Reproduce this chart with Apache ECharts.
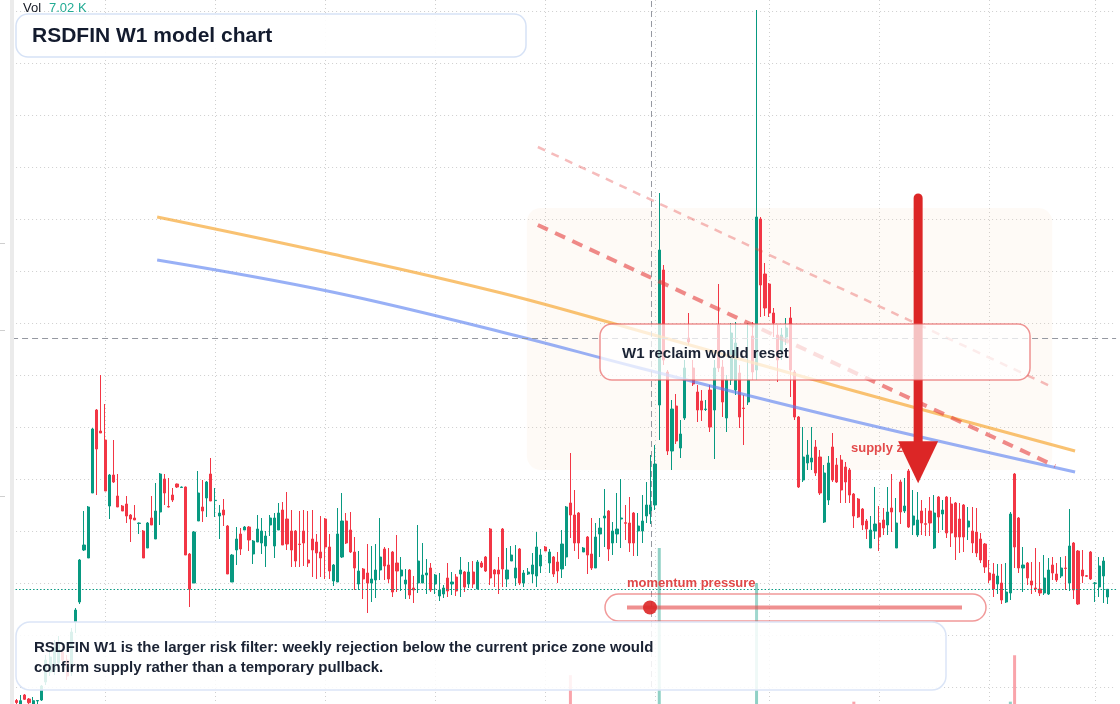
<!DOCTYPE html>
<html lang="en">
<head>
<meta charset="UTF-8">
<title>RSDFIN W1 model chart</title>
<script src="https://cdn.jsdelivr.net/npm/echarts@6/dist/echarts.min.js"></script>
<style>
  html, body { margin: 0; padding: 0; background: #fff; }
  #chart { width: 1120px; height: 704px; }
</style>
</head>
<body>
<div id="chart"></div>
<script>
// weekly candles, oldest first: [open, close, low, high]
const ohlc = [
  [0.385,0.365,0.345,0.40],[0.35,0.383,0.35,0.44],[0.44,0.397,0.39,0.45],[0.40,0.363,0.35,0.41],[0.35,0.383,0.345,0.42],
  [0.38,0.385,0.35,0.39],[0.39,0.53,0.38,0.54],[0.57,0.79,0.54,0.84],[0.67,0.82,0.63,0.89],[0.69,0.92,0.64,0.99],
  [0.76,0.96,0.71,1.03],[0.87,0.79,0.75,0.94],[0.79,0.63,0.59,0.84],[0.67,1.07,0.63,1.11],[1.17,1.29,1.06,1.31],
  [1.37,1.79,1.35,1.80],[1.89,1.94,1.88,2.28],[1.81,2.32,1.81,2.33],[2.46,3.10,2.46,3.11],[3.29,2.90,2.44,3.30],
  [3.08,3.06,3.06,3.64],[2.99,2.48,2.48,3.35],[2.33,2.64,2.20,2.65],[2.64,2.57,2.56,2.99],[2.43,2.32,2.32,2.65],
  [2.33,2.28,2.28,2.34],[2.35,2.23,2.16,2.43],[2.24,2.20,1.97,2.25],[2.21,2.19,2.19,2.34],[2.155,2.16,2.05,2.165],
  [2.08,1.81,1.81,2.09],[1.91,2.16,1.91,2.17],[2.21,2.14,2.14,2.43],[2.00,2.28,2.00,2.56],[2.27,2.65,2.14,2.66],
  [2.60,2.46,2.34,2.65],[2.325,2.32,2.315,2.61],[2.44,2.39,2.37,2.51],[2.55,2.52,2.51,2.555],[2.515,2.52,2.51,2.525],
  [2.52,1.84,1.84,2.525],[1.85,1.50,1.32,1.86],[1.56,2.07,1.56,2.08],[2.18,2.46,2.18,2.68],[2.32,2.28,2.17,2.59],
  [2.41,2.57,2.22,2.58],[2.65,2.38,2.38,2.81],[2.384,2.387,2.22,2.51],[2.23,2.26,2.00,2.34],[2.29,2.24,2.13,2.40],
  [2.13,1.65,1.65,2.14],[1.57,1.84,1.57,1.85],[1.89,2.00,1.74,2.12],[2.05,1.90,1.84,2.11],[2.09,2.12,2.09,2.13],
  [2.12,1.99,1.88,2.13],[1.85,1.98,1.75,1.99],[1.97,2.10,1.97,2.24],[1.96,2.08,1.85,2.21],[1.93,2.03,1.72,2.08],
  [2.14,2.21,2.03,2.24],[1.93,2.21,1.81,2.26],[2.09,2.26,2.09,2.36],[2.29,1.94,1.94,2.37],[2.20,1.95,1.89,2.47],
  [2.08,1.89,1.72,2.29],[2.08,1.78,1.72,2.09],[1.95,1.945,1.72,2.28],[2.08,1.96,1.73,2.29],[1.79,1.76,1.72,2.28],
  [2.00,1.89,1.62,2.29],[1.97,1.86,1.60,2.05],[1.87,1.81,1.62,2.23],[2.20,1.92,1.60,2.21],[1.92,1.68,1.60,2.05],
  [1.58,1.74,1.53,1.75],[1.57,2.05,1.57,2.31],[1.82,2.18,1.81,2.46],[2.18,1.96,1.95,2.26],[2.09,1.87,1.86,2.27],
  [1.87,1.71,1.49,2.02],[1.55,1.68,1.49,1.88],[1.70,1.60,1.40,1.71],[1.66,1.56,1.26,1.95],[1.56,1.60,1.37,1.93],
  [1.59,1.69,1.41,1.95],[1.69,1.82,1.59,2.21],[1.90,1.73,1.59,1.92],[1.74,1.60,1.56,1.91],[1.87,1.47,1.42,1.88],
  [1.76,1.68,1.47,2.04],[1.63,1.69,1.48,1.82],[1.55,1.59,1.40,1.70],[1.69,1.44,1.40,1.70],[1.51,1.49,1.36,1.63],
  [1.56,1.78,1.46,2.14],[1.56,1.64,1.56,1.96],[1.64,1.66,1.45,1.80],[1.71,1.49,1.47,1.76],[1.55,1.64,1.45,1.65],
  [1.43,1.49,1.38,1.66],[1.45,1.51,1.41,1.54],[1.61,1.48,1.42,1.76],[1.55,1.57,1.44,1.67],[1.62,1.48,1.43,1.65],
  [1.65,1.69,1.42,1.82],[1.67,1.52,1.47,1.68],[1.55,1.67,1.51,1.77],[1.67,1.55,1.51,1.78],[1.50,1.77,1.50,1.79],
  [1.76,1.72,1.71,1.78],[1.82,1.68,1.67,1.83],[2.10,1.61,1.54,2.11],[1.69,1.65,1.52,1.70],[1.69,1.65,1.45,1.82],
  [2.10,1.70,1.52,2.11],[1.60,1.69,1.52,1.91],[1.78,1.84,1.78,1.93],[1.61,1.71,1.53,1.94],[1.90,1.56,1.54,1.91],
  [1.56,1.66,1.52,1.69],[1.65,1.67,1.64,1.71],[1.65,1.74,1.56,1.86],[1.63,1.92,1.52,2.07],[1.73,1.84,1.66,1.90],
  [1.92,1.88,1.88,1.93],[1.76,1.87,1.66,1.90],[1.82,1.65,1.62,1.83],[1.77,1.68,1.56,1.87],[1.70,1.95,1.61,2.09],
  [1.82,2.32,1.73,2.33],[2.36,2.24,2.01,2.86],[2.24,1.96,1.88,2.49],[2.26,1.96,1.80,2.27],[1.87,1.91,1.87,1.92],
  [2.02,1.84,1.65,2.03],[1.85,1.71,1.69,2.21],[1.71,2.02,1.71,2.16],[2.05,2.11,1.82,2.21],[2.21,2.23,1.92,2.50],
  [2.28,1.90,1.78,2.29],[1.96,2.08,1.84,2.17],[2.05,2.10,1.96,2.46],[2.20,2.21,1.91,2.60],[2.163,2.157,1.99,2.34],
  [2.16,1.96,1.87,2.42],[2.26,1.96,1.83,2.27],[2.08,2.13,1.83,2.26],[2.08,2.18,1.96,2.44],[2.23,2.34,2.16,2.57],
  [2.25,2.34,2.15,2.84],[2.34,2.75,2.29,2.94],[3.34,4.89,2.99,5.46],[4.69,3.79,3.74,4.74],[3.67,2.88,2.84,3.69],
  [2.88,3.30,2.69,3.39],[3.33,2.98,2.95,3.45],[2.91,3.05,2.81,3.19],[3.21,3.71,3.19,3.79],[4.01,3.97,3.94,4.26],
  [3.71,3.55,3.53,3.79],[3.47,3.29,3.17,3.54],[3.38,3.29,3.18,3.49],[3.295,3.30,3.28,3.39],[3.49,3.12,3.07,3.54],
  [3.29,3.71,2.80,3.79],[4.14,3.71,3.67,4.55],[3.72,3.37,3.22,3.79],[3.21,3.59,3.07,3.64],[3.59,4.06,3.54,4.16],
  [3.49,3.96,3.44,4.17],[3.66,3.22,3.11,3.74],[3.31,3.305,2.94,3.44],[3.37,3.59,3.34,4.16],[4.03,3.67,3.59,4.17],
  [3.69,5.22,3.59,7.29],[5.20,4.54,4.22,5.22],[4.65,4.31,4.23,4.76],[4.55,4.26,4.22,4.56],[4.26,4.16,4.02,4.31],
  [4.04,3.79,3.57,4.14],[3.87,4.04,3.79,4.11],[4.02,4.11,3.94,4.21],[4.21,3.69,3.42,4.32],[3.67,3.22,3.19,3.69],
  [3.22,2.52,2.51,3.23],[2.59,2.82,2.57,3.12],[2.76,2.84,2.69,2.99],[2.77,2.81,2.69,3.12],[2.92,2.66,2.63,2.99],
  [2.82,2.46,2.44,2.89],[2.17,2.66,2.16,2.74],[2.39,2.76,2.34,2.83],[2.92,2.59,2.57,3.06],[2.74,2.57,2.56,2.81],
  [2.79,2.49,2.36,2.84],[2.72,2.57,2.36,2.77],[2.69,2.44,2.36,2.71],[2.45,2.23,2.11,2.46],[2.40,2.22,2.21,2.41],
  [2.30,2.14,2.09,2.31],[2.18,2.10,2.00,2.20],[1.91,2.09,1.91,2.23],[2.08,2.15,2.00,2.52],[2.16,2.02,1.88,2.33],
  [2.19,2.11,2.04,2.31],[2.14,2.27,2.04,2.52],[2.31,2.27,2.07,2.65],[1.91,2.16,1.91,2.41],[2.57,2.27,2.15,2.59],
  [2.28,2.33,2.26,2.61],[2.68,2.12,2.11,2.70],[2.14,2.23,2.04,2.49],[2.04,2.19,2.02,2.47],[2.28,2.16,2.04,2.39],
  [2.153,2.147,2.03,2.31],[2.28,2.16,2.03,2.42],[1.91,2.26,1.90,2.44],[2.42,2.22,2.06,2.43],[2.25,2.29,2.09,2.39],
  [2.42,2.06,2.01,2.43],[2.35,2.06,1.92,2.42],[2.36,2.02,1.79,2.37],[2.20,2.02,1.86,2.36],[2.34,2.02,1.87,2.35],
  [2.12,2.18,1.99,2.32],[2.08,1.96,1.86,2.32],[2.07,1.86,1.82,2.31],[2.00,1.79,1.76,2.06],[1.95,1.72,1.66,1.96],
  [1.66,1.59,1.56,1.79],[1.65,1.50,1.42,1.76],[1.55,1.63,1.45,1.75],[1.56,1.39,1.35,1.75],[1.37,1.47,1.36,1.76],
  [1.46,2.25,1.39,2.27],[2.65,1.92,1.71,2.66],[2.21,1.71,1.66,2.22],[1.71,1.74,1.47,1.92],[1.76,1.61,1.54,1.77],
  [1.58,1.54,1.45,1.77],[1.51,1.50,1.47,1.91],[1.50,1.46,1.43,1.77],[1.46,1.61,1.44,1.84],[1.45,1.69,1.44,1.81],
  [1.74,1.66,1.59,1.82],[1.65,1.59,1.57,1.76],[1.63,1.71,1.61,1.82],[1.71,1.705,1.49,1.83],[1.56,1.93,1.48,2.30],
  [1.96,1.49,1.40,1.97],[1.88,1.35,1.34,1.89],[1.69,1.63,1.56,1.89],[1.633,1.627,1.62,1.64],[1.87,1.60,1.59,1.88],
  [1.557,1.56,1.37,1.57],[1.52,1.73,1.42,1.82],[1.63,1.78,1.36,1.82],[1.42,1.497,1.35,1.50]
];

// weekly volume, thousands
const volume = [
  1.2,0.9,1.1,0.8,1.0,0.7,2.4,3.1,2.6,2.9,2.7,2.2,2.5,3.8,4.2,6.1,5.3,7.4,8.6,8.1,
  6.2,7.0,5.1,4.6,3.9,2.8,3.3,3.0,2.4,2.1,3.6,3.2,2.7,3.4,4.1,3.0,2.5,2.2,1.9,1.6,
  5.2,6.0,5.5,4.4,3.1,2.9,3.5,2.6,2.3,2.4,4.8,4.0,2.9,2.7,1.8,2.5,2.6,2.3,2.2,2.4,
  2.1,2.8,2.5,3.0,2.9,2.7,2.8,2.6,2.4,2.5,2.7,2.6,2.3,3.1,2.9,2.2,3.8,3.5,2.6,2.5,
  2.8,2.4,2.2,2.9,2.3,2.1,2.6,2.4,2.3,3.2,2.7,2.0,1.9,2.6,2.2,3.0,2.3,2.1,2.5,1.9,
  1.8,1.7,2.3,1.9,2.2,2.1,2.0,1.9,2.1,2.6,1.8,2.0,3.4,1.9,2.2,3.3,2.4,2.0,2.3,2.9,
  1.9,1.6,2.2,3.1,2.4,1.8,2.1,2.3,2.5,3.6,6.2,16.4,5.8,4.6,2.4,3.2,3.0,3.7,2.6,2.8,
  3.5,2.7,2.9,3.0,2.4,2.9,3.2,2.5,2.8,3.4,4.1,6.8,49.0,8.5,8.0,6.1,5.4,4.2,5.6,4.8,
  4.4,3.9,3.6,2.8,4.0,5.2,4.7,4.1,3.8,4.6,4.3,3.9,3.4,3.6,4.2,40.0,8.2,6.3,5.1,4.4,
  4.0,3.6,3.3,5.5,5.0,6.8,3.9,3.1,3.0,3.4,4.2,4.5,3.7,3.9,3.1,3.3,2.8,3.0,9.6,2.7,
  2.6,2.4,3.0,2.9,2.8,2.5,3.1,3.2,3.0,3.3,2.7,3.6,2.8,2.9,2.6,2.4,2.7,3.4,2.9,2.3,
  3.2,3.1,3.4,2.9,3.0,2.4,2.8,3.0,2.9,3.1,2.6,3.2,2.7,3.3,3.0,9.6,21.5,7.9,4.6,3.8,
  3.5,3.4,3.1,3.6,3.8,3.0,2.9,2.8,3.1,5.2,5.6,6.0,3.9,2.7,4.1,3.3,4.9,5.1,7.02
];

// first week of each half-year (candle index) -> vertical grid
const halfYearWeeks = [21, 47, 73, 99, 125, 151, 178, 204, 230, 255];

// model overlays, [candle index, price]
const slowCurve = [[33.3, 5.22], [74.7, 4.85], [114.7, 4.46], [147.4, 4.08], [194.7, 3.52], [250.3, 2.88]];
const fastCurve = [[33.3, 4.79], [74.7, 4.47], [114.7, 4.07], [147.4, 3.71], [194.7, 3.21], [250.3, 2.67]];
const upperRail = [[123.3, 5.92], [244.4, 3.53]];
const lowerRail = [[123.3, 5.14], [245.6, 2.73]];
const supplyZone = [[120.7, 5.31, 244.9, 2.69]];
const supplyArrow = [[213.2, 5.41, 2.557]];
const crosshair = [150.2, 4.007];
const lastClose = ohlc[ohlc.length - 1][1];

// one empty week in front, two after
const weeks = [];
const t0 = Date.UTC(2019, 7, 5);
for (let k = 0; k < ohlc.length + 3; k++) {
  weeks.push(new Date(t0 + k * 7 * 864e5).toISOString().slice(0, 10));
}

const UP = '#089981', DOWN = '#f23645';
const FONT = '"Liberation Sans", Arial, sans-serif';
const GRID_LINE = { color: '#cfcfcf', type: [1, 3], width: 1 };
const step = 4.23;
const gridLeft = 16.3 - step;
const gridRight = 1120 - gridLeft - (weeks.length - 1) * step;

let chart = echarts.init(document.getElementById('chart'));

const hidden = { axisLine: { show: false }, axisTick: { show: false }, axisLabel: { show: false }, splitLine: { show: false } };

option = {
  animation: false,
  backgroundColor: '#ffffff',
  grid: [
    // price pane: lowest grid line sits 17px above the bottom edge
    { left: gridLeft, right: gridRight, top: 0, bottom: 17 },
    // volume overlay, full height
    { left: gridLeft, right: gridRight, top: 0, bottom: 0 }
  ],
  xAxis: [
    Object.assign({ type: 'category', data: weeks, boundaryGap: false, gridIndex: 0 }, hidden),
    { type: 'value', gridIndex: 0, min: -1, max: weeks.length - 2, show: false },
    Object.assign({ type: 'category', data: weeks, boundaryGap: false, gridIndex: 1 }, hidden, {
      splitLine: { show: true, interval: (idx) => halfYearWeeks.includes(idx - 1), lineStyle: GRID_LINE }
    })
  ],
  yAxis: [
    Object.assign({ type: 'value', gridIndex: 0, min: 0.52, max: 7.39, interval: 0.52 }, hidden, {
      splitLine: { show: true, showMaxLine: false, lineStyle: GRID_LINE }
    }),
    // volume in K; bars under 9K stay below the visible edge
    { type: 'value', gridIndex: 1, min: 9, max: 189.5, show: false }
  ],
  series: [
    {
      type: 'custom', xAxisIndex: 1, yAxisIndex: 0, z: 1, silent: true,
      data: supplyZone,
      encode: { x: [0, 2], y: [1, 3] },
      renderItem: (params, api) => {
        const a = api.coord([api.value(0), api.value(1)]);
        const b = api.coord([api.value(2), api.value(3)]);
        return {
          type: 'rect',
          shape: { x: a[0], y: a[1], width: b[0] - a[0], height: b[1] - a[1], r: 14 },
          style: { fill: 'rgba(245,200,160,0.09)' }
        };
      }
    },
    {
      type: 'bar', xAxisIndex: 2, yAxisIndex: 1, z: 1, barWidth: 3, silent: true,
      data: volume.map((v, i) => ({
        value: [i + 1, v],
        itemStyle: { color: ohlc[i][1] >= ohlc[i][0] ? 'rgba(8,153,129,0.45)' : 'rgba(242,54,69,0.45)' }
      }))
    },
    {
      type: 'candlestick', xAxisIndex: 0, yAxisIndex: 0, z: 2, barWidth: 2.6, clip: false,
      encode: { x: 0, y: [1, 2, 3, 4] },
      data: ohlc.map((d, i) => [i + 1, d[0], d[1], d[2], d[3]]),
      itemStyle: { color: UP, color0: DOWN, borderColor: UP, borderColor0: DOWN, borderWidth: 1 }
    },
    {
      type: 'line', xAxisIndex: 1, yAxisIndex: 0, z: 3, data: slowCurve, smooth: 0.4,
      showSymbol: false, silent: true,
      lineStyle: { color: 'rgba(246,170,60,0.72)', width: 3 },
      markLine: {
        silent: true, symbol: ['none', 'none'], label: { show: false },
        data: [
          { xAxis: crosshair[0], lineStyle: { color: '#9598a1', type: [6, 4], width: 1 } },
          { yAxis: crosshair[1], lineStyle: { color: '#9598a1', type: [6, 4], width: 1 } },
          { yAxis: lastClose, lineStyle: { color: UP, type: [1.5, 2], width: 1 } }
        ]
      }
    },
    {
      type: 'line', xAxisIndex: 1, yAxisIndex: 0, z: 3, data: fastCurve, smooth: 0.4,
      showSymbol: false, silent: true,
      lineStyle: { color: 'rgba(88,128,240,0.62)', width: 3 }
    },
    {
      type: 'line', xAxisIndex: 1, yAxisIndex: 0, z: 3, data: upperRail,
      showSymbol: false, silent: true,
      lineStyle: { color: 'rgba(229,62,62,0.35)', width: 2.5, type: [8, 7] }
    },
    {
      type: 'line', xAxisIndex: 1, yAxisIndex: 0, z: 3, data: lowerRail,
      showSymbol: false, silent: true,
      lineStyle: { color: 'rgba(229,62,62,0.6)', width: 4, type: [11, 8] }
    },
    {
      type: 'custom', xAxisIndex: 1, yAxisIndex: 0, z: 6, silent: true,
      data: supplyArrow,
      encode: { x: 0, y: [1, 2] },
      renderItem: (params, api) => {
        const top = api.coord([api.value(0), api.value(1)]);
        const tip = api.coord([api.value(0), api.value(2)]);
        const headH = 42, headW = 20;
        return {
          type: 'group',
          children: [
            { type: 'line', shape: { x1: top[0], y1: top[1], x2: tip[0], y2: tip[1] - headH + 4 },
              style: { stroke: '#dc2626', lineWidth: 9, lineCap: 'round' } },
            { type: 'polygon', shape: { points: [[tip[0] - headW, tip[1] - headH], [tip[0] + headW, tip[1] - headH], [tip[0], tip[1]]] },
              style: { fill: '#dc2626' } }
          ]
        };
      }
    }
  ],
  graphic: [
    // left pane separator and the stray scale ticks beside it
    { type: 'rect', z: 50, shape: { x: 10, y: 0, width: 4, height: 704 }, style: { fill: '#ebebeb' } },
    { type: 'line', z: 50, shape: { x1: 0, y1: 243.5, x2: 5, y2: 243.5 }, style: { stroke: '#cfcfcf', lineWidth: 1 } },
    { type: 'line', z: 50, shape: { x1: 0, y1: 330.5, x2: 5, y2: 330.5 }, style: { stroke: '#cfcfcf', lineWidth: 1 } },
    { type: 'line', z: 50, shape: { x1: 0, y1: 496.5, x2: 5, y2: 496.5 }, style: { stroke: '#cfcfcf', lineWidth: 1 } },
    { type: 'text', z: 50, x: 23, y: 8, style: { text: 'Vol', font: '13px ' + FONT, fill: '#131722', verticalAlign: 'middle' } },
    { type: 'text', z: 50, x: 49, y: 8, style: { text: '7.02 K', font: '13px ' + FONT, fill: '#22ab94', verticalAlign: 'middle' } },
    // title
    { type: 'rect', z: 100, shape: { x: 16, y: 14, width: 510, height: 43, r: 12 },
      style: { fill: 'rgba(255,255,255,0.9)', stroke: '#d6e2f6', lineWidth: 1.5 } },
    { type: 'text', z: 101, x: 32, y: 36, style: { text: 'RSDFIN W1 model chart', font: 'bold 21px ' + FONT, fill: '#131b2e', verticalAlign: 'middle' } },
    // supply zone label (under the arrow)
    { type: 'text', z: 4, x: 851, y: 448, style: { text: 'supply zone', font: 'bold 13px ' + FONT, fill: '#e34b4b', verticalAlign: 'middle' } },
    // reclaim note
    { type: 'rect', z: 100, shape: { x: 600, y: 324, width: 430, height: 56, r: 12 },
      style: { fill: 'rgba(255,255,255,0.72)', stroke: 'rgba(230,90,90,0.65)', lineWidth: 1.5 } },
    { type: 'text', z: 101, x: 622, y: 354, style: { text: 'W1 reclaim would reset', font: 'bold 15px ' + FONT, fill: '#1a2233', verticalAlign: 'middle' } },
    // momentum gauge
    { type: 'text', z: 101, x: 627, y: 583, style: { text: 'momentum pressure', font: 'bold 13px ' + FONT, fill: '#e04848', verticalAlign: 'middle' } },
    { type: 'rect', z: 100, shape: { x: 605, y: 594, width: 381, height: 27, r: 13.5 },
      style: { fill: 'rgba(255,255,255,0.15)', stroke: 'rgba(229,70,70,0.55)', lineWidth: 1.5 } },
    { type: 'line', z: 101, shape: { x1: 627, y1: 607.5, x2: 962, y2: 607.5 },
      style: { stroke: 'rgba(229,70,70,0.6)', lineWidth: 4 } },
    { type: 'circle', z: 102, shape: { cx: 650, cy: 607.5, r: 7 }, style: { fill: 'rgba(220,38,38,0.9)' } },
    // footnote
    { type: 'rect', z: 100, shape: { x: 16, y: 622, width: 930, height: 68, r: 14 },
      style: { fill: 'rgba(255,255,255,0.86)', stroke: '#dbe5f7', lineWidth: 1.5 } },
    { type: 'text', z: 101, x: 34, y: 648, style: { text: 'RSDFIN W1 is the larger risk filter: weekly rejection below the current price zone would', font: 'bold 15px ' + FONT, fill: '#1a2233', verticalAlign: 'middle' } },
    { type: 'text', z: 101, x: 34, y: 668, style: { text: 'confirm supply rather than a temporary pullback.', font: 'bold 15px ' + FONT, fill: '#1a2233', verticalAlign: 'middle' } }
  ]
};

chart.setOption(option);
</script>
</body>
</html>
